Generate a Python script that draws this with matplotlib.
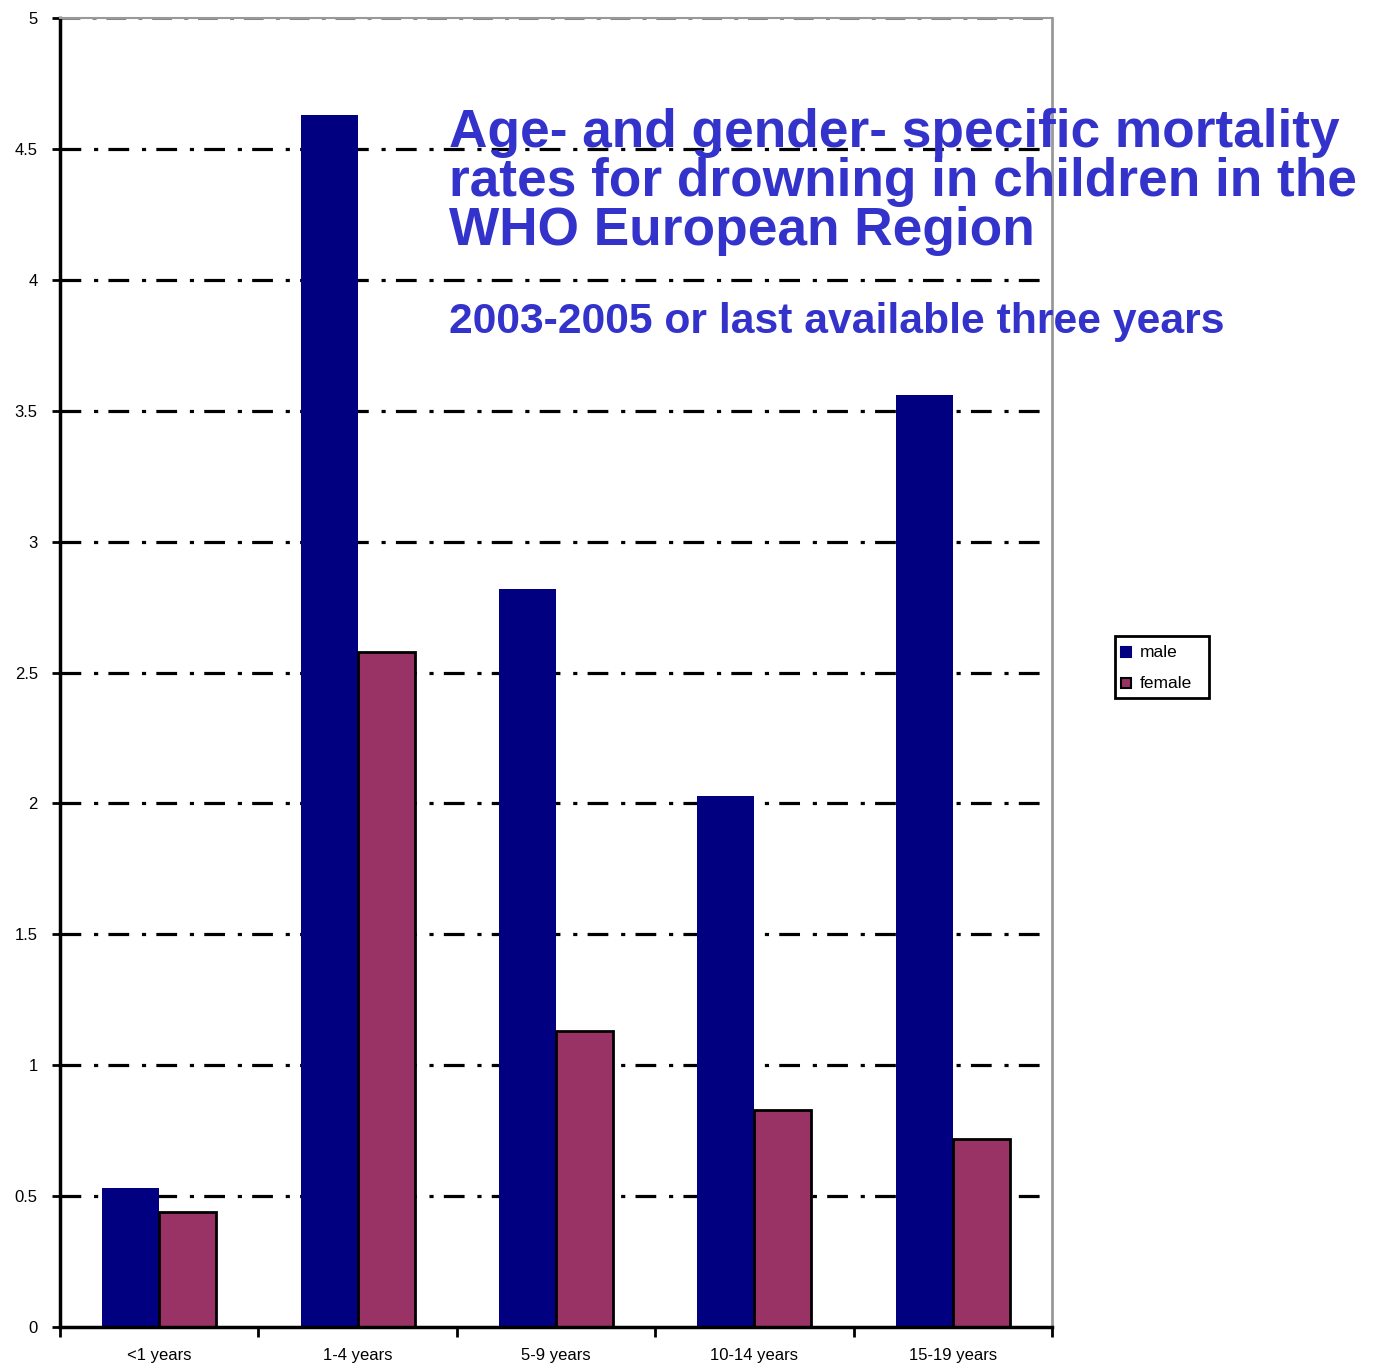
import matplotlib
matplotlib.use("Agg")
import matplotlib.pyplot as plt
import numpy as np
from matplotlib.patches import Rectangle

plt.rcParams['font.family'] = ['Liberation Sans', 'DejaVu Sans']

categories = ["<1 years", "1-4 years", "5-9 years", "10-14 years", "15-19 years"]
male = [0.53, 4.63, 2.82, 2.03, 3.56]
female = [0.44, 2.58, 1.13, 0.83, 0.72]
yticks = [0, 0.5, 1, 1.5, 2, 2.5, 3, 3.5, 4, 4.5, 5]
ytick_labels = ["0", "0.5", "1", "1.5", "2", "2.5", "3", "3.5", "4", "4.5", "5"]
series_names = ["male", "female"]

MALE_COLOR = "#000080"
FEMALE_COLOR = "#993366"
TITLE_COLOR = "#3333CC"

W, H = 1373, 1365
fig = plt.figure(figsize=(W / 100, H / 100), dpi=100)
ax = fig.add_axes([0.0437, 0.0278, 0.7225, 0.959])

x = np.arange(len(categories))
w = 0.287
ax.bar(x - w / 2, male, width=w, color=MALE_COLOR, linewidth=0, zorder=2)
ax.bar(x + w / 2, female, width=w, color=FEMALE_COLOR, edgecolor="black",
       linewidth=2, zorder=2)

ax.set_xlim(-0.5, len(categories) - 0.5)
ax.set_ylim(0, 5)

# dash-dot gridlines behind the bars
dash = (0, (6.5, 4.0, 1.3, 3.2))
for v in yticks[1:-1]:
    ax.axhline(v, color="black", linewidth=2.3, linestyle=dash, zorder=1)
ax.axhline(5, color="#888888", linewidth=2.2, linestyle=dash, zorder=1)

ax.set_yticks(yticks)
ax.set_yticklabels(ytick_labels, fontsize=12)
ax.tick_params(axis="y", direction="out", length=6, width=2, pad=10)

ax.set_xticks(np.arange(len(categories) + 1) - 0.5)
ax.set_xticklabels([])
ax.tick_params(axis="x", which="major", direction="out", length=7, width=2)
ax.set_xticks(x, minor=True)
ax.set_xticklabels(categories, minor=True, fontsize=12)
ax.tick_params(axis="x", which="minor", length=0, pad=15)

for side in ("left", "bottom"):
    ax.spines[side].set_linewidth(2.5)
    ax.spines[side].set_color("black")
ax.spines["top"].set_color("#999999")
ax.spines["top"].set_linewidth(1.5)
ax.spines["right"].set_color("#999999")
ax.spines["right"].set_linewidth(2)

fig.text(0.327, 0.921, "Age- and gender- specific mortality\nrates for drowning in children in the\nWHO European Region",
         color=TITLE_COLOR, fontsize=38.3, fontweight="bold", ha="left", va="top",
         linespacing=0.98)
fig.text(0.327, 0.779, "2003-2005 or last available three years",
         color=TITLE_COLOR, fontsize=30.7, fontweight="bold", ha="left", va="top")


def px(xp, yp):
    return xp / W, 1 - yp / H


# legend box
x0, y0 = px(1115, 698)
x1, y1 = px(1209, 636)
fig.patches.append(Rectangle((x0, y0), x1 - x0, y1 - y0, transform=fig.transFigure,
                             facecolor="white", edgecolor="black", linewidth=2))
for name, color, edge, yc in [(series_names[0], MALE_COLOR, MALE_COLOR, 652),
                              (series_names[1], FEMALE_COLOR, "black", 683)]:
    sx, sy = px(1121, yc + 5)
    sw, sh = 10 / W, 10 / H
    fig.patches.append(Rectangle((sx, sy), sw, sh, transform=fig.transFigure,
                                 facecolor=color, edgecolor=edge, linewidth=1.5))
    tx, ty = px(1140, yc)
    fig.text(tx, ty, name, fontsize=12.5, ha="left", va="center")

fig.savefig("out.png", dpi=100)
